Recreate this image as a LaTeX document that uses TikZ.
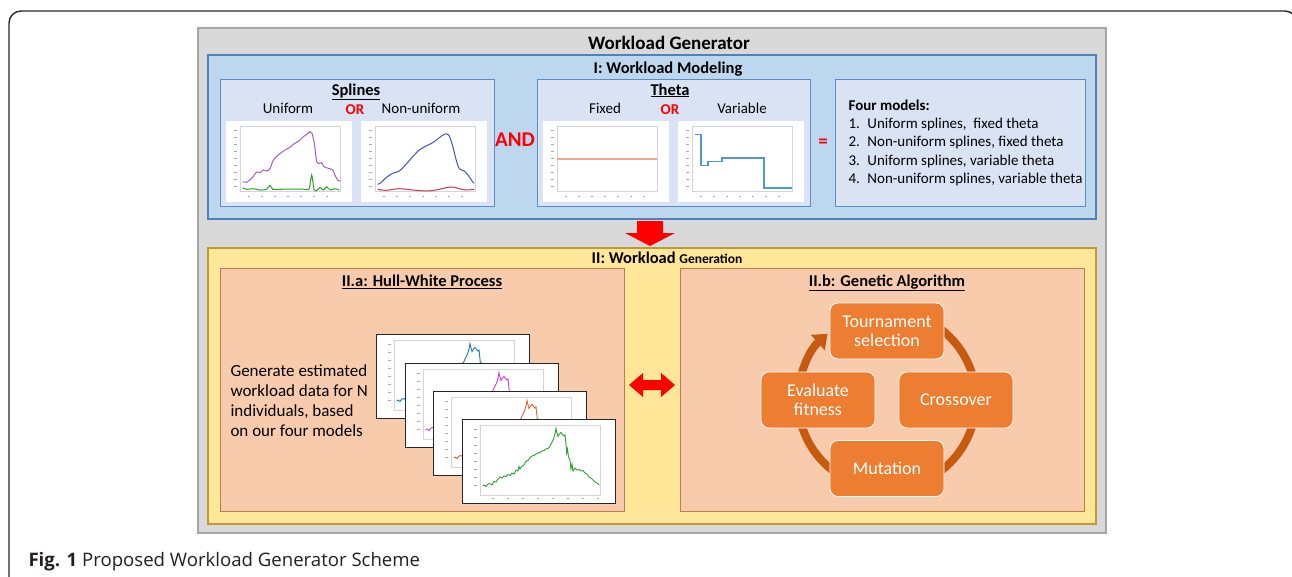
\documentclass[tikz,border=0pt]{standalone}
\usepackage{fontspec}
\setmainfont{Carlito}
\newfontfamily\capfont{Open Sans}
\usetikzlibrary{arrows.meta,positioning}

\definecolor{genfill}{HTML}{D9D9D9}
\definecolor{genline}{HTML}{A6A6A6}
\definecolor{modfill}{HTML}{BDD7EE}
\definecolor{modline}{HTML}{4F81BD}
\definecolor{subfill}{HTML}{DAE3F3}
\definecolor{subline}{HTML}{5B8BC9}
\definecolor{yelfill}{HTML}{FFE699}
\definecolor{yelline}{HTML}{C09A3A}
\definecolor{orfill}{HTML}{F8CBAD}
\definecolor{orline}{HTML}{BE7D4A}
\definecolor{stepfill}{HTML}{ED7D31}
\definecolor{ringcol}{HTML}{C55A11}
\definecolor{arrowred}{HTML}{FF0000}
\definecolor{axisgray}{HTML}{D4D4D4}
\definecolor{capcol}{HTML}{231F20}
\definecolor{plotpurple}{HTML}{A55BC2}
\definecolor{plotgreen}{HTML}{2CA02C}
\definecolor{plotblue}{HTML}{4054B8}
\definecolor{plotred}{HTML}{C23B4E}
\definecolor{plotsalmon}{HTML}{F4A582}
\definecolor{plotsky}{HTML}{4E9AD6}
\definecolor{runblue}{HTML}{1F77B4}
\definecolor{runmag}{HTML}{D43BD4}
\definecolor{runorange}{HTML}{E8622C}

\tikzset{
  genbox/.style={fill=genfill, draw=genline, line width=1.2pt},
  modbox/.style={fill=modfill, draw=modline, line width=1.2pt},
  subbox/.style={fill=subfill, draw=subline, line width=1pt},
  yelbox/.style={fill=yelfill, draw=yelline, line width=1.2pt},
  orbox/.style={fill=orfill, draw=orline, line width=1pt},
  boxtitle/.style={anchor=base, font=\bfseries\fontsize{16.5}{19}\selectfont},
  choice/.style={anchor=base, font=\fontsize{15}{18}\selectfont},
  redword/.style={anchor=base, text=arrowred, font=\bfseries\fontsize{15}{18}\selectfont},
  modelline/.style={anchor=base west, font=\fontsize{15}{17}\selectfont},
  gentext/.style={anchor=base west, font=\fontsize{17}{20}\selectfont},
  axisbox/.style={draw=axisgray, line width=0.5pt},
  tickmark/.style={draw=axisgray!80!black, line width=0.6pt},
  gastep/.style={rounded corners=8pt, fill=stepfill, draw=white, line width=0.8pt,
    minimum width=114pt, minimum height=56pt, text=white, align=center,
    font=\fontsize{18}{18.7}\selectfont},
  ring/.style={draw=ringcol, line width=8pt},
}

\begin{document}
\begin{tikzpicture}[x=1pt,y=-1pt]
\useasboundingbox (0,0) rectangle (1292,576);

% page frame
\draw[line width=1.4pt, draw=black!85, rounded corners=12pt] (9,600) -- (9,11) -- (1297,11) -- (1297,600);

% generator
\draw[genbox] (198,28) rectangle (1106,533);
\node[boxtitle, font=\bfseries\fontsize{19}{22}\selectfont] (gen) at (669,49) {Workload Generator};

% I: modeling
\draw[modbox] (208,55) rectangle (1096,219);
\node[boxtitle] (model) at (668,73) {I: Workload Modeling};

\draw[subbox] (220,79) rectangle (494,206);
\node[boxtitle] (spl) at (356,95) {\underline{Splines}};
\node[choice] (unif) at (288,113) {Uniform};
\node[redword] (or1) at (355,114) {OR};
\node[choice] (nonunif) at (421,113) {Non-uniform};

\node[anchor=base, text=arrowred, font=\bfseries\fontsize{21}{24}\selectfont] (and) at (515,146.5) {AND};

\draw[subbox] (537,79) rectangle (810,206);
\node[boxtitle] (theta) at (670,95) {\underline{Theta}};
\node[choice] (fixed) at (605,113) {Fixed};
\node[redword] (or2) at (670,114) {OR};
\node[choice] (variable) at (742,113) {Variable};

\node[anchor=base, text=arrowred, font=\bfseries\fontsize{19}{22}\selectfont] (eq) at (823,147) {=};

\draw[subbox] (835,79) rectangle (1085,206);
\node[modelline, font=\bfseries\fontsize{15}{17}\selectfont] (m0) at (845,110) {Four models:};
\node[modelline] (m1) at (845,128.3) {1.\enspace Uniform splines,\ \ fixed theta};
\node[modelline] (m2) at (845,146.7) {2.\enspace Non-uniform splines, fixed theta};
\node[modelline] (m3) at (845,165) {3.\enspace Uniform splines, variable theta};
\node[modelline] (m4) at (845,183.3) {4.\enspace Non-uniform splines, variable theta};

% small plots of the models
\foreach \px in {226,361,543,678}{
  \begin{scope}[shift={(\px,121)}]
    \fill[white] (0,0) rectangle (126,81);
    \draw[axisbox] (14,5) rectangle (114,70);
    \foreach \v in {9,16,...,65} \draw[tickmark] (8,\v) -- (11,\v);
    \foreach \u in {22,35,...,112} \draw[tickmark] (\u,75) -- (\u+2,75);
  \end{scope}
}
\begin{scope}[shift={(226,121)}]
  \draw[plotpurple, line width=1pt] plot[smooth, tension=0.4] coordinates {(16.7,60.7) (20.7,61.3) (25.7,57.3) (30.7,51) (34,51.7) (37.3,49) (40.7,50) (44,47.7) (47.3,39) (52.3,34) (59,29) (64,26.3) (67.3,23.3) (70.7,21.3) (74,19) (77.3,15.7) (81.3,13) (84,10.7) (86,12.3) (88.3,22.3) (90.7,40.7) (93.3,42.3) (95.7,41.7) (98,45.7) (102.3,47.3) (106.7,49) (109.7,55.7) (112.3,59.7) (114,59.7)};
  \draw[plotgreen, line width=1pt] plot[smooth, tension=0.4] coordinates {(16.7,66.7) (20.7,68.3) (27.3,67.7) (34,69) (40.7,68.3) (44,64.3) (46.7,68.3) (54,68.3) (67.3,68) (80.7,68.3) (83.3,67.7) (85.7,54) (88,68.3) (90.7,69.7) (94,66.3) (97.3,69) (100.7,65.7) (104,69) (109,67.7) (113.3,69)};
\end{scope}
\begin{scope}[shift={(361,121)}]
  \draw[plotblue, line width=1pt] plot[smooth] coordinates {(16.7,63.3) (20,61.7) (25,56.7) (31.7,52.3) (38.3,50) (45,43.3) (51.7,35.7) (58.3,29) (65,25) (71.7,21.7) (78.3,16.7) (83.3,13.3) (87.7,14) (91.7,25) (95,38.3) (98.3,47.7) (103.3,50) (107.7,55) (111.7,61) (113.3,62.3)};
  \draw[plotred, line width=1pt] plot[smooth] coordinates {(16.7,68.3) (25,69.3) (38.3,67.7) (51.7,69) (65,70) (75,69) (85,66.7) (91.7,66) (98.3,67.7) (105,69) (113.3,68.3)};
\end{scope}
\begin{scope}[shift={(543,121)}]
  \draw[plotsalmon, line width=2pt] (14,38) -- (114,38);
\end{scope}
\begin{scope}[shift={(678,121)}]
  \draw[plotsky, line width=1.3pt] (16.6,13.4) -- (22.9,13.4) -- (22.9,44.3) -- (29.9,44.3) -- (29.9,40.3) -- (43.9,40.3) -- (43.9,36.9) -- (86,36.9) -- (86,67.1) -- (114,67.1);
\end{scope}

% arrow between the two stages
\fill[arrowred] (637,221) -- (663,221) -- (663,233) -- (675,233) -- (650,246) -- (625,233) -- (637,233) -- cycle;

% II: generation
\draw[yelbox] (208,248) rectangle (1096,524);
\node[anchor=base, font=\bfseries] (gener) at (667,263.3) {{\fontsize{16.5}{19}\selectfont II: Workload }{\fontsize{13.5}{16}\selectfont Generation}};

% II.a
\draw[orbox] (220,268) rectangle (624,511);
\node[boxtitle] (hull) at (422,286.7) {\underline{II.a: Hull-White Process}};
\foreach \i/\txt in {0/Generate estimated, 1/workload data for N, 2/{individuals, based}, 3/on our four models}
  \node[gentext] (gl\i) at (227,376+20.2*\i) {\txt};

\foreach \px/\py/\col in {376/334/runblue, 405/363/runmag, 433/391/runorange, 462/419/plotgreen}{
  \begin{scope}[shift={(\px,\py)}]
    \draw[fill=white, draw=black!85, line width=1pt] (0,0) rectangle (153,84);
    \draw[axisbox] (18,6) rectangle (138,76);
    \foreach \v in {10,18,...,72} \draw[tickmark] (12,\v) -- (15,\v);
    \foreach \u in {30,45,...,135} \draw[tickmark] (\u,79.5) -- (\u+2,79.5);
    \draw[\col, line width=0.9pt] plot coordinates {(20.7,67) (22,66) (24,67.5) (26,65) (28,64.5) (30,66) (32,62.5) (34,63) (36,60) (38,58) (40,59) (42,57) (44,57.5) (46,55.5) (48,56.5) (50,54) (52,55) (54,51) (56,52) (57,47.5) (58,50) (60,47) (62,46) (64,42) (66,41.5) (68,38.5) (70,37) (72,36.5) (74,35) (76,34) (78,33.5) (80,32) (82,31.5) (84,30) (86,29.5) (88,27.5) (89,25) (90,23) (91.5,20) (93,15) (94,9.5) (95,14) (96,17.5) (97.5,15) (99,13.5) (100.5,15.5) (102,17) (103,16) (104,25) (104.7,34) (105.5,30) (106.5,38) (108,41) (109,50) (110,45) (111,52) (113,49) (115,51) (117,50.5) (119,52) (121,51.5) (123,54) (125,55) (127,58) (129,59) (131,61) (133,63) (135,64) (137.3,66)};
  \end{scope}
}

% link between the two parts
\fill[arrowred] (629,385) -- (643,373) -- (643,380) -- (661,380) -- (661,373) -- (675,385) -- (661,397) -- (661,390) -- (643,390) -- (643,397) -- cycle;

% II.b
\draw[orbox] (680,268) rectangle (1084,511);
\node[boxtitle] (ga) at (887,286) {\underline{II.b: Genetic Algorithm}};

\coordinate (cyc) at (887,400);
\draw[ring] ([shift={(-90:89)}]cyc) arc[start angle=-90, end angle=0, radius=89];
\draw[ring] ([shift={(0:89)}]cyc) arc[start angle=0, end angle=90, radius=89];
\draw[ring] ([shift={(90:89)}]cyc) arc[start angle=90, end angle=180, radius=89];
\draw[ring, -{Triangle[width=20pt,length=13pt]}] ([shift={(180:89)}]cyc) arc[start angle=180, end angle=228, radius=89];

\node[gastep] (tour) at (887,331) {Tournament\\selection};
\node[gastep] (cross) at (956,400) {Crossover};
\node[gastep] (mut) at (887,468.5) {Mutation};
\node[gastep] (eval) at (818,400) {Evaluate\\fitness};

% caption
\node[anchor=base west, text=capcol, font=\capfont\fontsize{18.6}{22}\selectfont] (cap) at (25,566.7) {\textbf{Fig. 1} Proposed Workload Generator Scheme};
\end{tikzpicture}
\end{document}
